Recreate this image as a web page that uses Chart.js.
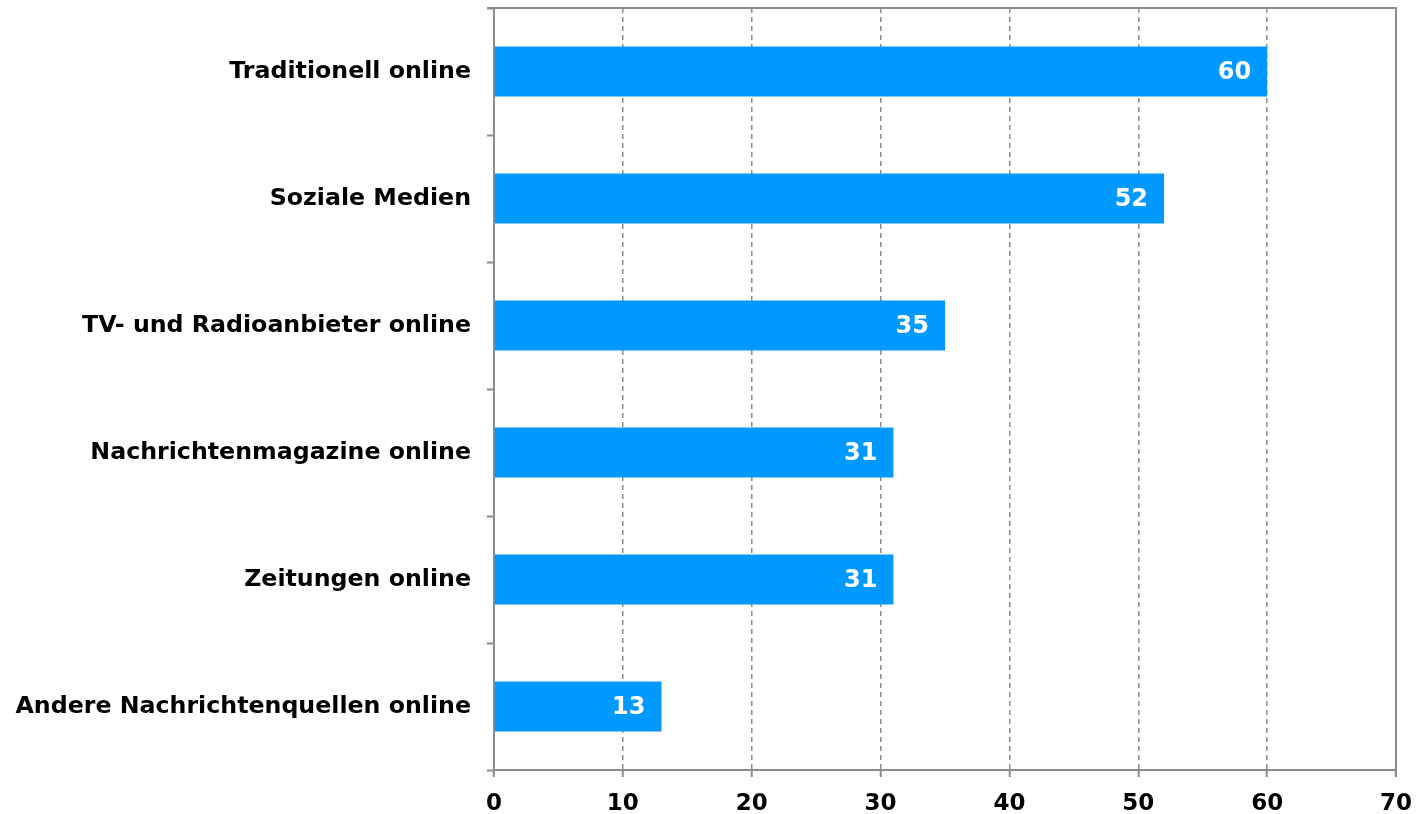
<!DOCTYPE html>
<html>
<head>
<meta charset="utf-8">
<script src="https://cdn.jsdelivr.net/npm/chart.js@4"></script>
<style>
  html, body { margin: 0; padding: 0; background: #fff; }
  #wrap { width: 1419px; height: 814px; }
</style>
</head>
<body>
<div id="wrap"><canvas id="chart" width="1419" height="814"></canvas></div>
<script>
const categories = [
  'Traditionell online',
  'Soziale Medien',
  'TV- und Radioanbieter online',
  'Nachrichtenmagazine online',
  'Zeitungen online',
  'Andere Nachrichtenquellen online'
];
const values = [60, 52, 35, 31, 31, 13];
const xMin = 0;
const xMax = 70;
const xStep = 10;

const FONT = '"DejaVu Sans", Verdana, sans-serif';
const GRID = '#8c8c8c';

// value labels inside the end of each bar
const barLabels = {
  id: 'barLabels',
  afterDatasetsDraw(chart) {
    const ctx = chart.ctx;
    const meta = chart.getDatasetMeta(0);
    ctx.save();
    ctx.fillStyle = '#ffffff';
    ctx.font = 'bold 24px ' + FONT;
    ctx.textAlign = 'right';
    ctx.textBaseline = 'middle';
    meta.data.forEach((bar, i) => {
      ctx.fillText(String(values[i]), bar.x - 16, bar.y + 1);
    });
    ctx.restore();
  }
};

// top and right edges of the plot frame
const frame = {
  id: 'frame',
  afterDraw(chart) {
    const a = chart.chartArea;
    const ctx = chart.ctx;
    ctx.save();
    ctx.strokeStyle = GRID;
    ctx.lineWidth = 2;
    ctx.beginPath();
    ctx.moveTo(a.left - 7, a.top);
    ctx.lineTo(a.right, a.top);
    ctx.lineTo(a.right, a.bottom + 7);
    ctx.stroke();
    ctx.restore();
  }
};

new Chart(document.getElementById('chart'), {
  type: 'bar',
  data: {
    labels: categories,
    datasets: [{
      data: values,
      backgroundColor: '#0099ff',
      borderWidth: 0,
      categoryPercentage: 1,
      barPercentage: 0.394
    }]
  },
  options: {
    indexAxis: 'y',
    responsive: false,
    animation: false,
    layout: { padding: { top: 8, right: 23, left: 0, bottom: 0 } },
    plugins: {
      legend: { display: false },
      tooltip: { enabled: false }
    },
    scales: {
      x: {
        min: xMin,
        max: xMax,
        ticks: {
          stepSize: xStep,
          color: '#000',
          padding: 13,
          font: { family: FONT, size: 23, weight: 'bold' }
        },
        grid: {
          color: GRID,
          lineWidth: 1.5,
          tickLength: 7,
          tickWidth: 2
        },
        border: { color: GRID, width: 2, dash: [5, 4] },
        afterFit(scale) {
          scale.height = 44;
          scale.paddingLeft = 0;
          scale.paddingRight = 0;
        }
      },
      y: {
        ticks: {
          color: '#000',
          padding: 16,
          font: { family: FONT, size: 23.7, weight: 'bold' }
        },
        grid: {
          offset: true,
          drawOnChartArea: false,
          color: GRID,
          tickLength: 7,
          tickWidth: 2
        },
        border: { color: GRID, width: 2 },
        afterFit(scale) {
          scale.width = 494;
          scale.paddingTop = 0;
          scale.paddingBottom = 0;
        }
      }
    }
  },
  plugins: [barLabels, frame]
});
</script>
</body>
</html>
